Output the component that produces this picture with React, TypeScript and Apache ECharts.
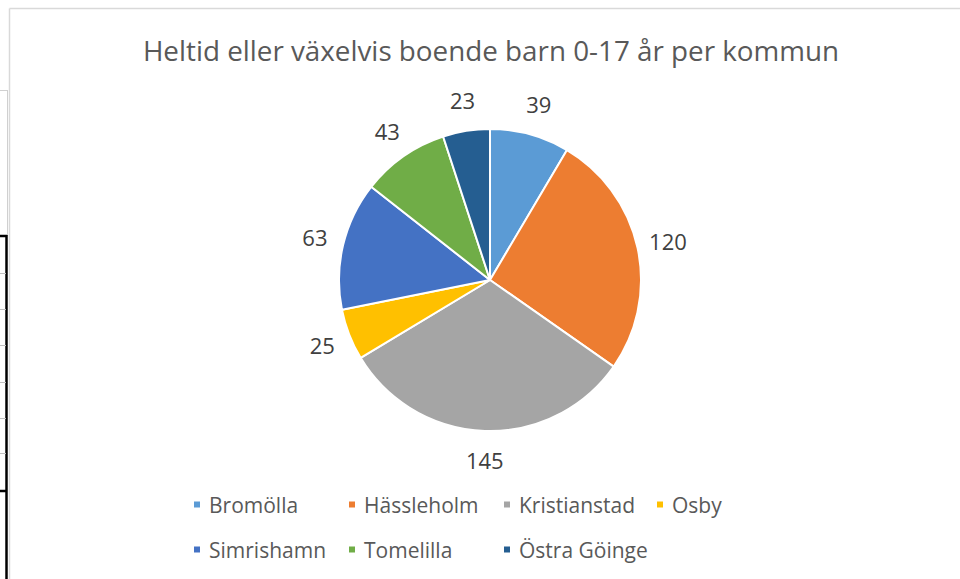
import React, { useEffect, useRef } from "react";
import * as echarts from "echarts";

const titleText = "Heltid eller växelvis boende barn 0-17 år per kommun";
const municipalities = ["Bromölla", "Hässleholm", "Kristianstad", "Osby", "Simrishamn", "Tomelilla", "Östra Göinge"];
const children = [39, 120, 145, 25, 63, 43, 23];
const sliceColors = ["#5B9BD5", "#ED7D31", "#A5A5A5", "#FFC000", "#4472C4", "#70AD47", "#255E91"];

// legend layout (icon left x, row centre y)
const legendSpots: [number, number][] = [
  [192, 508], [347, 508], [502, 508], [655, 508],
  [192, 553], [347, 553], [502, 553],
];

const FONT = "'Open Sans', 'Noto Sans', sans-serif";

export default function App() {
  const ref = useRef<HTMLDivElement>(null);
  useEffect(() => {
    if (!ref.current) return;
    const chart = echarts.init(ref.current, undefined, { renderer: "svg" });
    const data = municipalities.map((name, i) => ({
      name,
      value: children[i],
      itemStyle: { color: sliceColors[i] },
    }));
    const labelData = municipalities.map((name, i) => ({ name, value: children[i] }));
    const legends = municipalities.map((name, i) => ({
      data: [name],
      left: legendSpots[i][0],
      top: legendSpots[i][1] - 14,
      orient: "horizontal",
      icon: "rect",
      itemWidth: 8,
      itemHeight: 8,
      padding: 0,
      selectedMode: false,
      textStyle: { color: "#595959", fontSize: 21, fontFamily: FONT, padding: [0, 0, 0, 3] },
    }));
    chart.setOption({
      animation: false,
      backgroundColor: "#ffffff",
      title: {
        text: titleText,
        left: 486,
        top: 31,
        textAlign: "center",
        textStyle: { color: "#595959", fontSize: 27.8, fontWeight: "normal", fontFamily: FONT },
      },
      legend: legends,
      graphic: [
        { type: "line", shape: { x1: 9.5, y1: 8.5, x2: 9.5, y2: 579 }, style: { stroke: "#d9d9d9", lineWidth: 1.5 } },
        { type: "line", shape: { x1: 9.5, y1: 8.5, x2: 960, y2: 8.5 }, style: { stroke: "#d9d9d9", lineWidth: 1.5 } },
        { type: "line", shape: { x1: 0, y1: 90.5, x2: 8, y2: 90.5 }, style: { stroke: "#d0d0d0", lineWidth: 1 } },
        { type: "line", shape: { x1: 7.5, y1: 90, x2: 7.5, y2: 236 }, style: { stroke: "#d0d0d0", lineWidth: 1 } },
        { type: "line", shape: { x1: 6.5, y1: 235, x2: 6.5, y2: 579 }, style: { stroke: "#000", lineWidth: 2.5 } },
        { type: "line", shape: { x1: 0, y1: 236, x2: 7, y2: 236 }, style: { stroke: "#000", lineWidth: 2.5 } },
        { type: "line", shape: { x1: 0, y1: 491, x2: 7, y2: 491 }, style: { stroke: "#000", lineWidth: 2.5 } },
        ...[273, 309, 345, 382, 418, 453].map((y) => ({
          type: "line",
          shape: { x1: 0, y1: y + 0.5, x2: 6, y2: y + 0.5 },
          style: { stroke: "#bfbfbf", lineWidth: 1 },
        })),
      ],
      series: [
        {
          type: "pie",
          center: [490, 280],
          radius: [0, 151],
          startAngle: 90,
          clockwise: true,
          data,
          label: { show: false },
          labelLine: { show: false },
          itemStyle: { borderColor: "#ffffff", borderWidth: 2 },
          emphasis: { disabled: true },
          silent: true,
        },
        {
          type: "pie",
          center: [491, 279],
          radius: [166, 190],
          startAngle: 90,
          clockwise: true,
          data: labelData,
          itemStyle: { color: "rgba(0,0,0,0)" },
          label: {
            show: true,
            position: "inside",
            formatter: "{c}",
            color: "#404040",
            fontSize: 22,
            fontFamily: FONT,
          },
          labelLine: { show: false },
          emphasis: { disabled: true },
          silent: true,
        },
      ],
    });
    return () => chart.dispose();
  }, []);
  return <div ref={ref} style={{ position: "fixed", left: 0, top: 0, width: 960, height: 579 }} />;
}
